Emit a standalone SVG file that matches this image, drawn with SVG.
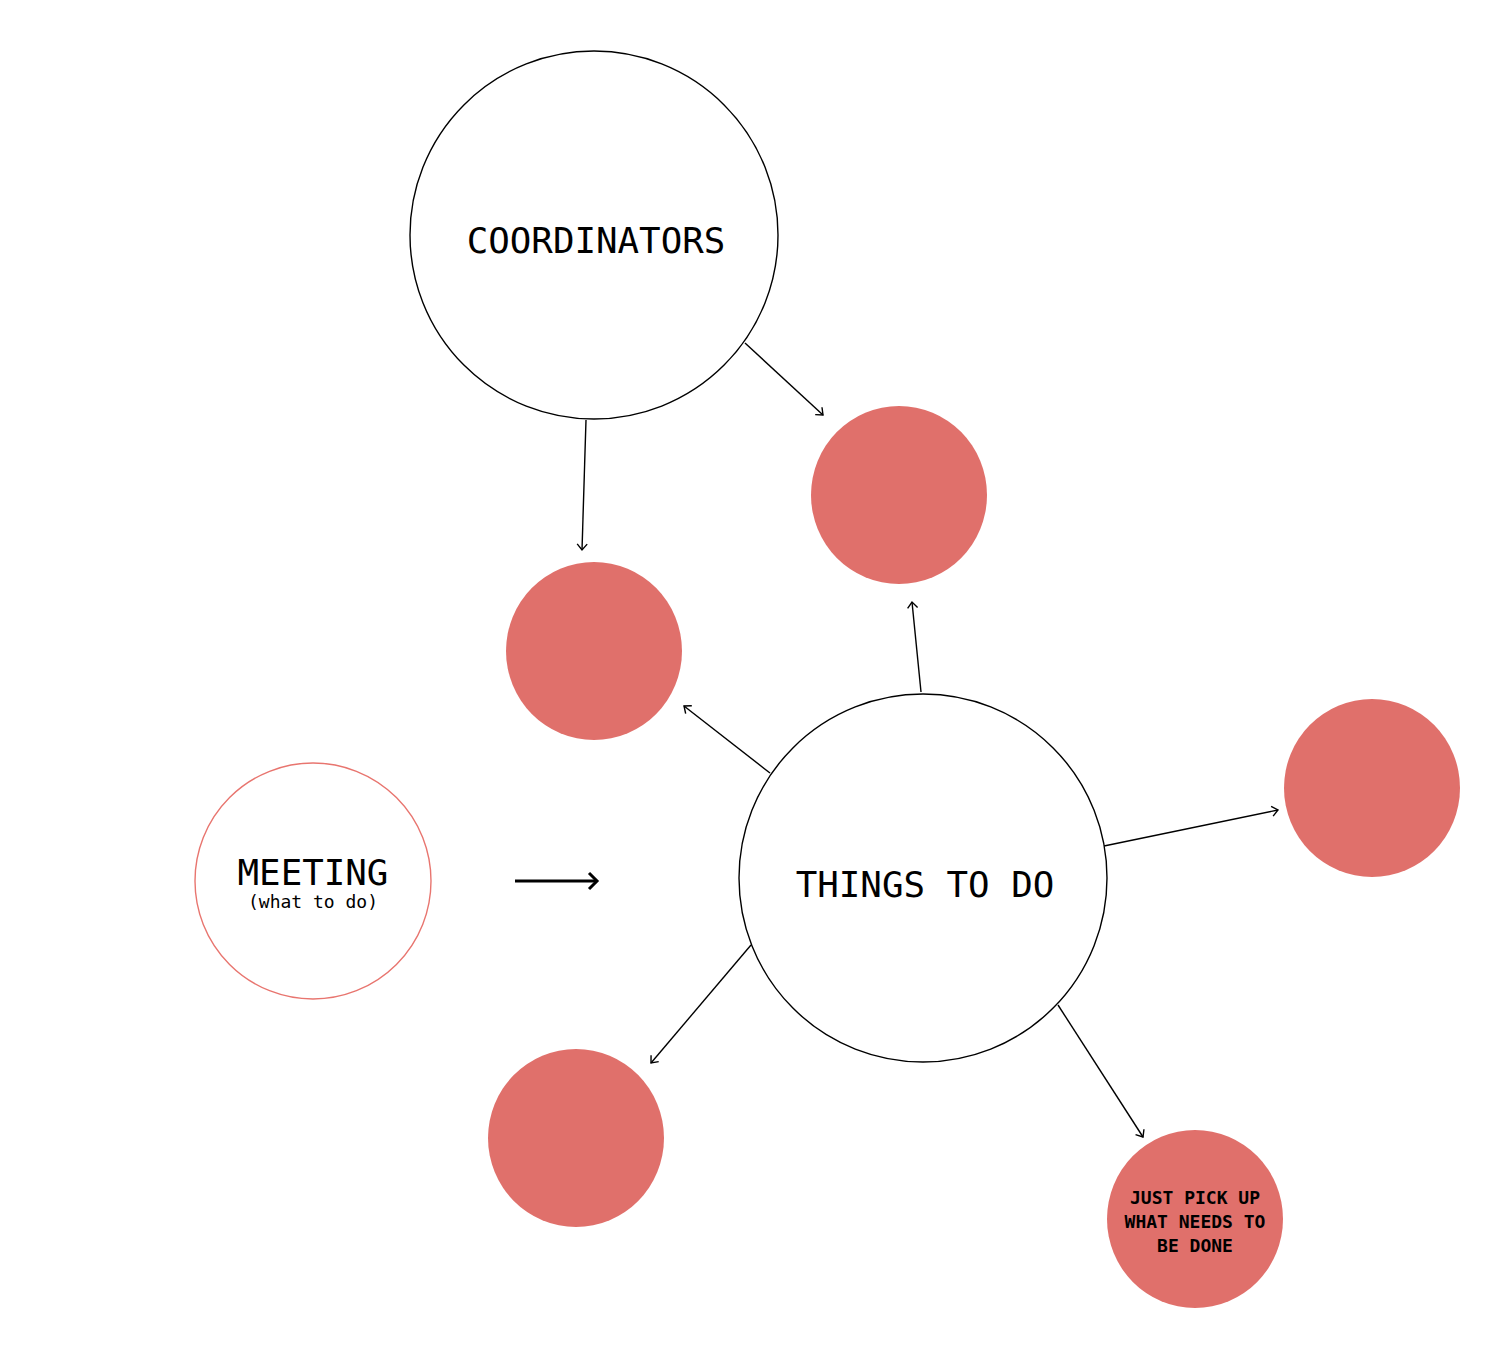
<svg xmlns="http://www.w3.org/2000/svg" width="1508" height="1364" viewBox="0 0 1508 1364">
<style>
.big{fill:#fff;stroke:#000;stroke-width:1.4}
.red{fill:#e0706b}
.t{font-family:"DejaVu Sans Mono","Liberation Mono",monospace;fill:#000;text-anchor:middle}
.conn{stroke:#000;stroke-width:1.4;fill:none;marker-end:url(#ah)}
</style>
<defs>
<marker id="ah" markerWidth="12" markerHeight="12" refX="10" refY="6" orient="auto" markerUnits="userSpaceOnUse">
<path d="M4,1 L10,6 L4,11" fill="none" stroke="#000" stroke-width="1.4"/>
</marker>
<marker id="ah2" markerWidth="16" markerHeight="20" refX="13" refY="10" orient="auto" markerUnits="userSpaceOnUse">
<path d="M5,2 L13,10 L5,18" fill="none" stroke="#000" stroke-width="3"/>
</marker>
</defs>
<rect width="1508" height="1364" fill="#fff"/>
<g id="connectors">
<line class="conn" x1="745" y1="343" x2="823" y2="415"/>
<line class="conn" x1="586" y1="420" x2="582" y2="550"/>
<line class="conn" x1="921" y1="692" x2="912" y2="602"/>
<line class="conn" x1="770" y1="773" x2="684" y2="706"/>
<line class="conn" x1="1104" y1="846" x2="1278" y2="810"/>
<line class="conn" x1="751" y1="945" x2="651" y2="1063"/>
<line class="conn" x1="1058" y1="1005" x2="1143" y2="1137"/>
<line x1="515" y1="881" x2="597" y2="881" stroke="#000" stroke-width="3" marker-end="url(#ah2)"/>
</g>
<g id="coordinators">
<circle class="big" cx="594" cy="235" r="184"/>
<text class="t" x="596" y="253" font-size="35.8">COORDINATORS</text>
</g>
<g id="things">
<circle class="big" cx="923" cy="878" r="184"/>
<text class="t" x="925" y="897" font-size="35.8">THINGS TO DO</text>
</g>
<g id="meeting">
<circle cx="313" cy="881" r="118" fill="#fff" stroke="#e8756f" stroke-width="1.4"/>
<text class="t" x="313" y="885" font-size="35.8">MEETING</text>
<text class="t" x="313" y="908" font-size="18">(what to do)</text>
</g>
<g id="red1"><ellipse class="red" cx="594" cy="651" rx="88" ry="89"/></g>
<g id="red2"><ellipse class="red" cx="899" cy="495" rx="88" ry="89"/></g>
<g id="red3"><ellipse class="red" cx="1372" cy="788" rx="88" ry="89"/></g>
<g id="red4"><ellipse class="red" cx="576" cy="1138" rx="88" ry="89"/></g>
<g id="red5">
<ellipse class="red" cx="1195" cy="1219" rx="88" ry="89"/>
<text class="t" x="1195" y="1204" font-size="18" font-weight="bold">JUST PICK UP</text>
<text class="t" x="1195" y="1228" font-size="18" font-weight="bold">WHAT NEEDS TO</text>
<text class="t" x="1195" y="1252" font-size="18" font-weight="bold">BE DONE</text>
</g>
</svg>
